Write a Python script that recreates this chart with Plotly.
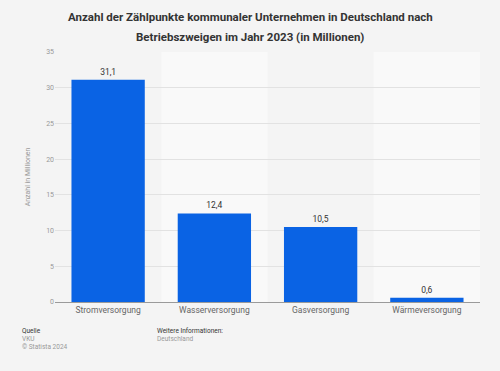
import plotly.graph_objects as go

categories = ["Stromversorgung", "Wasserversorgung", "Gasversorgung", "Wärmeversorgung"]
values = [31.1, 12.4, 10.5, 0.6]
labels = ["31,1", "12,4", "10,5", "0,6"]
y_ticks = [0, 5, 10, 15, 20, 25, 30, 35]
title_lines = ["Anzahl der Zählpunkte kommunaler Unternehmen in Deutschland nach",
               "Betriebszweigen im Jahr 2023 (in Millionen)"]

FONT = "Roboto, Arial, sans-serif"

fig = go.Figure()
fig.add_trace(go.Bar(
    x=categories, y=values, text=labels, textposition="outside",
    textfont=dict(family=FONT, size=8.5, color="#333333"),
    marker=dict(color="#0a63e4", line=dict(width=0)),
    cliponaxis=False, hoverinfo="skip",
))

shapes = []
for i in [1, 3]:
    shapes.append(dict(type="rect", xref="x", yref="paper", x0=i - 0.5, x1=i + 0.5, y0=0, y1=1,
                       fillcolor="#f9f9f9", line=dict(width=0), layer="below"))

L, R, T, B = 55, 20, 52, 69
W, H = 500, 371


def px(x, y):
    pw = W - L - R
    ph = H - T - B
    return (x - L) / pw, (H - B - y) / ph


foot = [
    ("Quelle", 20, 331, "#333333"),
    ("VKU", 20, 339, "#999999"),
    ("© Statista 2024", 20, 347, "#999999"),
    ("Weitere Informationen:", 155, 331, "#333333"),
    ("Deutschland", 155, 339, "#999999"),
]
anns = []
for t, x, y, c in foot:
    xp, yp = px(x, y)
    anns.append(dict(text=t, x=xp, y=yp, xref="paper", yref="paper", showarrow=False,
                     xanchor="left", yanchor="middle",
                     font=dict(family=FONT, size=6.5, color=c)))
for t, y in zip(title_lines, [17, 37]):
    xp, yp = px(250, y)
    anns.append(dict(text="<b>" + t + "</b>", x=xp, y=yp, xref="paper", yref="paper",
                     showarrow=False, xanchor="center", yanchor="middle",
                     font=dict(family=FONT, size=11.5, color="#333333")))

fig.update_layout(
    width=W, height=H,
    paper_bgcolor="#f4f4f4", plot_bgcolor="#f4f4f4",
    margin=dict(l=L, r=R, t=T, b=B),
    bargap=0.31,
    showlegend=False,
    shapes=shapes,
    annotations=anns,
    xaxis=dict(
        tickfont=dict(family=FONT, size=8.5, color="#666666"),
        showgrid=False, showline=True, linecolor="#9a9a9a", linewidth=1, ticks="",
        range=[-0.5, 3.5],
    ),
    yaxis=dict(
        range=[0, 35], tickvals=y_ticks,
        tickfont=dict(family=FONT, size=7, color="#999999"),
        showgrid=True, gridcolor="#e2e2e2", gridwidth=1, zeroline=False,
        ticks="", ticklen=0,
        title=dict(text="Anzahl in Millionen", standoff=14,
                   font=dict(family=FONT, size=7, color="#999999")),
    ),
)

fig.write_html("out.html", config={"displayModeBar": False},
               post_script="document.body.style.margin='0';")
